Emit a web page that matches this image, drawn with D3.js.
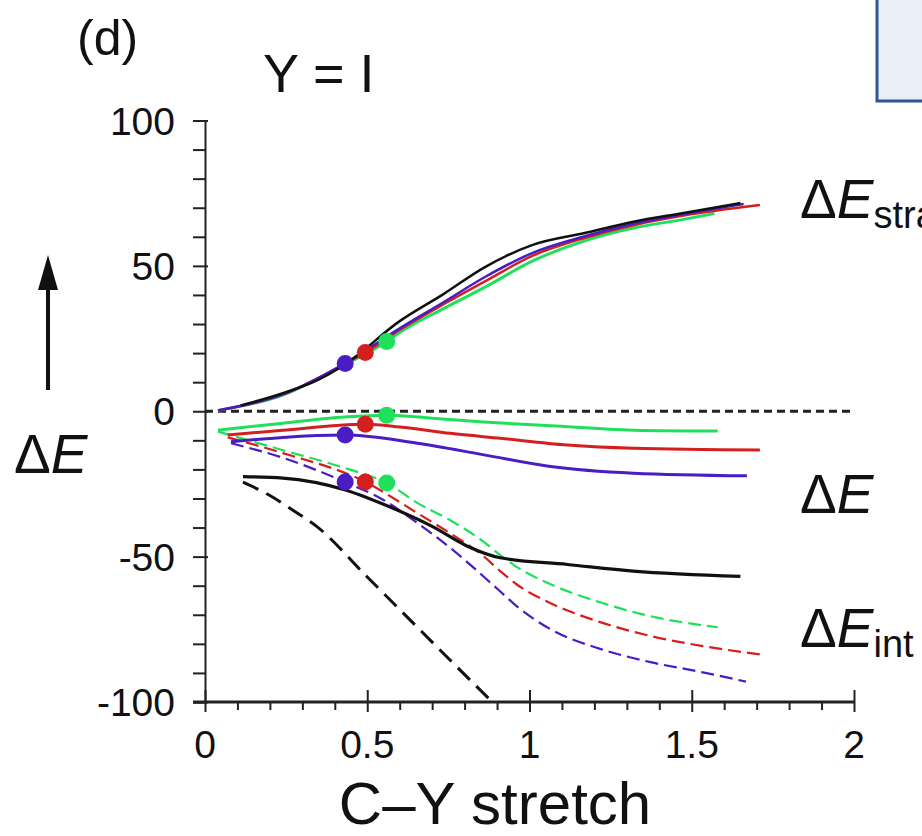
<!DOCTYPE html>
<html>
<head>
<meta charset="utf-8">
<script src="https://cdn.jsdelivr.net/npm/d3@7"></script>
<style>
  body { margin: 0; background: #fff; }
  text { font-family: "Liberation Sans", Arial, sans-serif; fill: #111; }
</style>
</head>
<body>
<svg id="chart" width="922" height="836"></svg>
<script>

// x ticks and y ticks
var xTicks = [0, 0.5, 1, 1.5, 2];
var xTickLabels = ["0", "0.5", "1", "1.5", "2"];
var yTicks = [100, 50, 0, -50, -100];
var yTickLabels = ["100", "50", "0", "-50", "-100"];

// upper group (Delta E strain), solid lines
var strainBlack = [[0.11, 2], [0.24, 6.2], [0.345, 10.6], [0.43, 16], [0.6, 31], [0.735, 40.3], [0.86, 49.4], [1.01, 57.2], [1.17, 61.3], [1.32, 65.2], [1.475, 68.2], [1.65, 71.6]];
var strainBlue = [[0.04, 0.3], [0.24, 5.8], [0.43, 16.4], [0.6, 28.5], [0.735, 37.5], [0.86, 46], [1.01, 54.5], [1.17, 60.2], [1.32, 64.5], [1.475, 67.8], [1.66, 71.3]];
var strainRed = [[0.04, 0.3], [0.24, 5.8], [0.43, 16.2], [0.494, 20.2], [0.6, 28], [0.735, 36.8], [0.86, 44.5], [1.01, 53.5], [1.17, 59.6], [1.32, 64], [1.475, 67.3], [1.71, 70.9]];
var strainGreen = [[0.04, 0.3], [0.24, 5.6], [0.43, 16], [0.56, 24], [0.6, 27.1], [0.735, 35.3], [0.86, 42.5], [1.01, 51.7], [1.17, 58.6], [1.32, 63], [1.475, 66], [1.57, 68]];

// middle group (Delta E), solid lines
var dEGreen = [[0.04, -6.5], [0.24, -4.1], [0.43, -2], [0.56, -1.4], [0.7, -2.4], [0.86, -3.7], [1.065, -5], [1.32, -6.5], [1.58, -6.8]];
var dERed = [[0.07, -8.2], [0.24, -6.5], [0.494, -4.5], [0.6, -5.4], [0.756, -7.6], [0.91, -9.3], [1.117, -11.6], [1.32, -12.7], [1.71, -13.3]];
var dEBlue = [[0.08, -10.5], [0.24, -9], [0.43, -8.2], [0.654, -11], [0.86, -15], [1.065, -19], [1.32, -21.3], [1.67, -22.2]];
var dEBlack = [[0.117, -22.5], [0.24, -23], [0.43, -27], [0.55, -32], [0.7, -39.6], [0.81, -46.5], [0.91, -50.4], [1.117, -52.7], [1.32, -55], [1.65, -56.8]];

// lower group (Delta E int), dashed lines
var intGreen = [[0.04, -7], [0.24, -13.4], [0.43, -19.5], [0.56, -24.7], [0.654, -31.5], [0.756, -37.5], [0.86, -45], [0.91, -49.5], [0.96, -53.5], [1.065, -59.5], [1.22, -65.8], [1.373, -70.5], [1.58, -74.3]];
var intRed = [[0.07, -9], [0.24, -14.4], [0.494, -24.3], [0.654, -35], [0.756, -42], [0.86, -50], [0.91, -55], [0.96, -59.5], [1.065, -66], [1.22, -72.6], [1.373, -77.3], [1.53, -80.7], [1.71, -83.6]];
var intBlue = [[0.08, -11], [0.24, -16], [0.43, -24.3], [0.55, -30.5], [0.654, -38.4], [0.756, -47], [0.86, -57], [0.91, -62], [0.96, -67], [1.065, -75], [1.22, -81.8], [1.373, -86.3], [1.53, -89.7], [1.667, -93]];
var intBlack = [[0.117, -24.4], [0.2, -29], [0.27, -34], [0.344, -39.6], [0.5, -57], [0.7, -79.4], [0.885, -100]];

// the round markers on each group
var markerX = [0.432, 0.494, 0.56];
var markerStrain = [16.4, 20.2, 24];
var markerDE = [-8.2, -4.5, -1.4];
var markerInt = [-24.3, -24.3, -24.7];

var blue = "#4a1cc4", red = "#d41f1f", green = "#1fe05a", black = "#111";
var markerColors = [blue, red, green];

var svg = d3.select("#chart");

// scales
var x = d3.scaleLinear().domain([0, 2]).range([205, 854]);
var y = d3.scaleLinear().domain([-100, 100]).range([702, 120.5]);

// the blue box in the corner
svg.append("rect")
  .attr("x", 877).attr("y", -5).attr("width", 60).attr("height", 106)
  .attr("fill", "#e9eef7").attr("stroke", "#2f5597").attr("stroke-width", 3);

// y axis with minor ticks
var yAxis = d3.axisLeft(y).tickValues(d3.range(-100, 101, 10)).tickSize(12).tickFormat("");
var gy = svg.append("g").attr("transform", "translate(" + x(0) + ",0)").call(yAxis);
gy.select(".domain").attr("stroke", "#222").attr("stroke-width", 2);
gy.selectAll(".tick line").attr("stroke", "#222").attr("stroke-width", 2)
  .attr("x1", function(d){ return d % 50 == 0 ? 3 : 0; });

// x axis: minor ticks below, major ticks across
var xAxis = d3.axisBottom(x).tickValues(d3.range(0, 21).map(function(i){ return i / 10; })).tickSize(8).tickFormat("");
var gx = svg.append("g").attr("transform", "translate(0," + y(-100) + ")").call(xAxis);
gx.select(".domain").remove();
gx.selectAll(".tick line").attr("stroke", "#222").attr("stroke-width", 2)
  .attr("y1", function(d){ return (Math.round(d * 10) % 5 == 0) ? -12 : 0; })
  .attr("y2", function(d){ return (Math.round(d * 10) % 5 == 0) ? 10 : 8; });
svg.append("line")
  .attr("x1", x(0) - 12).attr("x2", x(2)).attr("y1", y(-100)).attr("y2", y(-100))
  .attr("stroke", "#222").attr("stroke-width", 3);

// tick labels
svg.selectAll(".ylab").data(yTicks).enter().append("text")
  .attr("class", "ylab")
  .attr("x", x(0) - 30).attr("y", function(d){ return y(d) + 14; })
  .attr("text-anchor", "end").style("font-size", "39px")
  .text(function(d, i){ return yTickLabels[i]; });

svg.selectAll(".xlab").data(xTicks).enter().append("text")
  .attr("class", "xlab")
  .attr("x", function(d){ return x(d); }).attr("y", 758)
  .attr("text-anchor", "middle").style("font-size", "39px")
  .text(function(d, i){ return xTickLabels[i]; });

// zero line
svg.append("line")
  .attr("x1", x(0)).attr("x2", x(2)).attr("y1", y(0)).attr("y2", y(0))
  .attr("stroke", "#222").attr("stroke-width", 3).attr("stroke-dasharray", "8,5");

var line = d3.line()
  .x(function(d){ return x(d[0]); })
  .y(function(d){ return y(d[1]); })
  .curve(d3.curveMonotoneX);

function drawLine(data, color, width, dash){
  svg.append("path").datum(data)
    .attr("d", line)
    .attr("fill", "none")
    .attr("stroke", color)
    .attr("stroke-width", width)
    .attr("stroke-dasharray", dash || null);
}

// dashed Eint lines
drawLine(intBlue, blue, 2.2, "13,6");
drawLine(intRed, red, 2.2, "13,6");
drawLine(intGreen, green, 2.2, "13,6");
drawLine(intBlack, black, 3, "17,9");

// solid Delta E lines
drawLine(dEBlack, black, 3.2);
drawLine(dEBlue, blue, 3);
drawLine(dERed, red, 3);
drawLine(dEGreen, green, 3);

// strain lines
drawLine(strainGreen, green, 3);
drawLine(strainRed, red, 2.5);
drawLine(strainBlue, blue, 2.5);
drawLine(strainBlack, black, 2.5);

// markers
[markerStrain, markerDE, markerInt].forEach(function(group){
  svg.selectAll(null).data(group).enter().append("circle")
    .attr("cx", function(d, i){ return x(markerX[i]); })
    .attr("cy", function(d){ return y(d); })
    .attr("r", 8.5)
    .attr("fill", function(d, i){ return markerColors[i]; });
});

// text labels
svg.append("text").attr("x", 77).attr("y", 55).style("font-size", "50px").text("(d)");
svg.append("text").attr("x", 263).attr("y", 92).style("font-size", "54px").text("Y = I");

function deltaE(xPos, yPos, sub){
  var t = svg.append("text").attr("x", xPos).attr("y", yPos).style("font-size", "55px");
  t.append("tspan").text("Δ");
  t.append("tspan").style("font-style", "italic").text("E");
  if (sub) t.append("tspan").attr("dy", 10).style("font-size", "38px").text(sub);
}
deltaE(14, 473);
deltaE(800, 218, "strain");
deltaE(800, 513);
deltaE(800, 647, "int");

// the arrow beside the y label
svg.append("line").attr("x1", 48).attr("x2", 48).attr("y1", 390).attr("y2", 280)
  .attr("stroke", "#111").attr("stroke-width", 4);
svg.append("path").attr("d", "M48,255 L38,290 L58,290 Z").attr("fill", "#111");

// x axis title
svg.append("text").attr("x", 495).attr("y", 824).attr("text-anchor", "middle")
  .style("font-size", "60px").text("C–Y stretch");

</script>
</body>
</html>
